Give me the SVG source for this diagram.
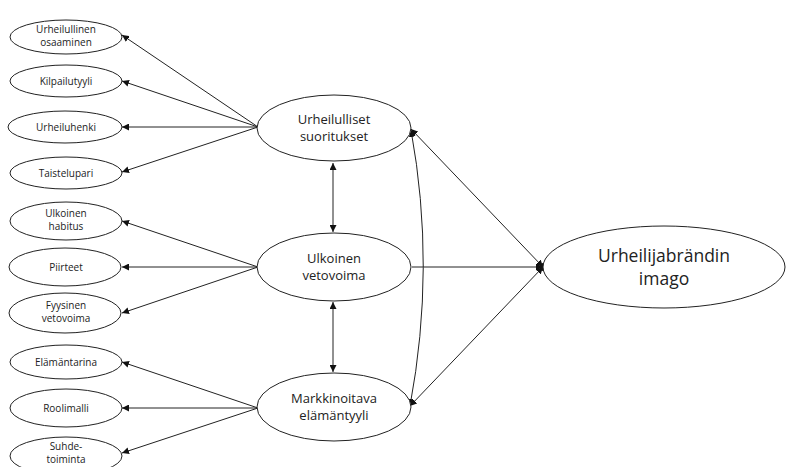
<svg xmlns="http://www.w3.org/2000/svg" width="787" height="467" viewBox="0 0 787 467">
<style>
.n ellipse{fill:#fff;stroke:#222;stroke-width:1}
.s{font-family:"Open Sans","Liberation Sans",sans-serif;font-size:10px;fill:#222;text-anchor:middle}
.m{font-family:"Open Sans","Liberation Sans",sans-serif;font-size:13px;fill:#222;text-anchor:middle}
.b{font-family:"Open Sans","Liberation Sans",sans-serif;font-size:17.5px;fill:#222;text-anchor:middle}
.c line,.c path{stroke:#222;stroke-width:1;fill:none}
</style>
<defs>
<marker id="a" viewBox="0 0 10 10" refX="10" refY="5" markerWidth="7" markerHeight="7" markerUnits="userSpaceOnUse" orient="auto-start-reverse">
<path d="M0,0 L10,5 L0,10 z" fill="#111"/>
</marker>
</defs>
<rect width="787" height="467" fill="#fff"/>
<g class="c" id="connectors">
<line x1="258" y1="127" x2="122" y2="35" marker-end="url(#a)"/>
<line x1="258" y1="127" x2="122" y2="81" marker-end="url(#a)"/>
<line x1="258" y1="127" x2="122" y2="127" marker-end="url(#a)"/>
<line x1="258" y1="127" x2="122" y2="172" marker-end="url(#a)"/>
<line x1="258" y1="267" x2="122" y2="221" marker-end="url(#a)"/>
<line x1="258" y1="267" x2="122" y2="267" marker-end="url(#a)"/>
<line x1="258" y1="267" x2="122" y2="313" marker-end="url(#a)"/>
<line x1="258" y1="408" x2="122" y2="362" marker-end="url(#a)"/>
<line x1="258" y1="408" x2="122" y2="408" marker-end="url(#a)"/>
<line x1="258" y1="408" x2="122" y2="453" marker-end="url(#a)"/>
<line x1="333" y1="163" x2="333" y2="232" marker-start="url(#a)" marker-end="url(#a)"/>
<line x1="333" y1="302" x2="333" y2="372" marker-start="url(#a)" marker-end="url(#a)"/>
<line x1="412" y1="267" x2="543" y2="267" marker-end="url(#a)"/>
<line x1="543" y1="267" x2="411" y2="129" marker-start="url(#a)" marker-end="url(#a)"/>
<line x1="543" y1="267" x2="410" y2="406" marker-start="url(#a)" marker-end="url(#a)"/>
<path d="M411,130 Q436,267 410,406" marker-start="url(#a)" marker-end="url(#a)"/>
<ellipse cx="543" cy="267" rx="2.5" ry="4" fill="#111" stroke="none"/>
</g>
<g class="n" id="n1"><ellipse cx="66" cy="37" rx="56" ry="17"/><text class="s" x="66" y="33">Urheilullinen</text><text class="s" x="66" y="45.5">osaaminen</text></g>
<g class="n" id="n2"><ellipse cx="66" cy="81" rx="56" ry="16"/><text class="s" x="66" y="84.5">Kilpailutyyli</text></g>
<g class="n" id="n3"><ellipse cx="65" cy="127" rx="57" ry="16"/><text class="s" x="66" y="130.5">Urheiluhenki</text></g>
<g class="n" id="n4"><ellipse cx="66" cy="173" rx="56" ry="16"/><text class="s" x="66" y="176.5">Taistelupari</text></g>
<g class="n" id="n5"><ellipse cx="66" cy="221" rx="56" ry="19"/><text class="s" x="66" y="217">Ulkoinen</text><text class="s" x="66" y="230">habitus</text></g>
<g class="n" id="n6"><ellipse cx="65" cy="267" rx="56" ry="19"/><text class="s" x="66" y="270.5">Piirteet</text></g>
<g class="n" id="n7"><ellipse cx="65" cy="313" rx="56" ry="20"/><text class="s" x="66" y="309">Fyysinen</text><text class="s" x="66" y="322">vetovoima</text></g>
<g class="n" id="n8"><ellipse cx="66" cy="362" rx="56" ry="17"/><text class="s" x="66" y="365.5">Elämäntarina</text></g>
<g class="n" id="n9"><ellipse cx="66" cy="408" rx="56" ry="19"/><text class="s" x="66" y="411.5">Roolimalli</text></g>
<g class="n" id="n10"><ellipse cx="66" cy="456" rx="56" ry="19"/><text class="s" x="66" y="450">Suhde-</text><text class="s" x="66" y="463">toiminta</text></g>
<g class="n" id="m1"><ellipse cx="334" cy="128" rx="77" ry="33"/><text class="m" x="334" y="124">Urheilulliset</text><text class="m" x="334" y="141">suoritukset</text></g>
<g class="n" id="m2"><ellipse cx="334" cy="267" rx="77" ry="34"/><text class="m" x="334" y="263">Ulkoinen</text><text class="m" x="334" y="280">vetovoima</text></g>
<g class="n" id="m3"><ellipse cx="334" cy="407" rx="77" ry="34"/><text class="m" x="334" y="403">Markkinoitava</text><text class="m" x="334" y="420">elämäntyyli</text></g>
<g class="n" id="big"><ellipse cx="664" cy="267" rx="121" ry="41"/><text class="b" x="664" y="262">Urheilijabrändin</text><text class="b" x="664" y="285">imago</text></g>
</svg>
